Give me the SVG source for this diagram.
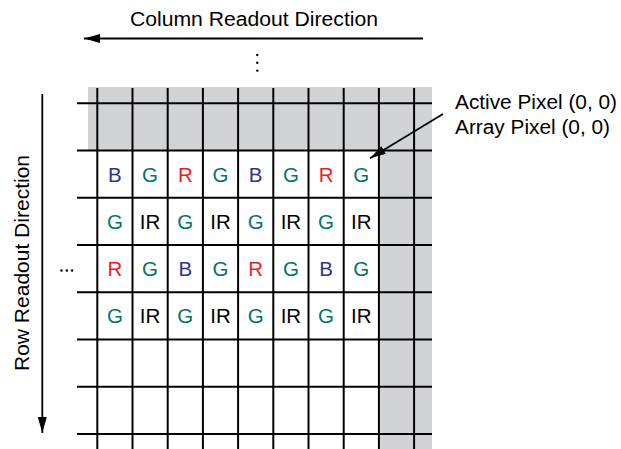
<svg xmlns="http://www.w3.org/2000/svg" width="621" height="449" viewBox="0 0 621 449">
<style>
  .grid line { stroke:#000; stroke-width:2; }
  .lbl { font-family:"Liberation Sans", Arial, sans-serif; font-size:20.5px; text-anchor:middle; }
  .b { fill:#2e3192; } .g { fill:#00746b; } .r { fill:#ed1c24; } .k { fill:#000; }
  .txt { font-family:"Liberation Sans", Arial, sans-serif; font-size:20px; fill:#000; }
  .arr { stroke:#000; stroke-width:1.8; fill:none; }
</style>
<defs>
  <marker id="ah" markerUnits="userSpaceOnUse" markerWidth="18" markerHeight="10" refX="16" refY="5" orient="auto">
    <path d="M0,0.5 L16,5 L0,9.5 Z" fill="#000"/>
  </marker>
</defs>
<rect width="621" height="449" fill="#fff"/>
<g id="shade">
  <path d="M88,87 H432 V449 H378.9 V150.5 H88 Z" fill="#d1d3d4"/>
</g>
<g id="grid" class="grid">
  <line x1="77" y1="103.3" x2="432" y2="103.3"/>
  <line x1="77" y1="150.5" x2="432" y2="150.5"/>
  <line x1="77" y1="197.8" x2="432" y2="197.8"/>
  <line x1="77" y1="245" x2="432" y2="245"/>
  <line x1="77" y1="292.3" x2="432" y2="292.3"/>
  <line x1="77" y1="339.5" x2="432" y2="339.5"/>
  <line x1="77" y1="386.7" x2="432" y2="386.7"/>
  <line x1="77" y1="434" x2="432" y2="434"/>
  <line x1="97.3" y1="88" x2="97.3" y2="449"/>
  <line x1="132.5" y1="88" x2="132.5" y2="449"/>
  <line x1="167.7" y1="88" x2="167.7" y2="449"/>
  <line x1="202.9" y1="88" x2="202.9" y2="449"/>
  <line x1="238.1" y1="88" x2="238.1" y2="449"/>
  <line x1="273.3" y1="88" x2="273.3" y2="449"/>
  <line x1="308.5" y1="88" x2="308.5" y2="449"/>
  <line x1="343.7" y1="88" x2="343.7" y2="449"/>
  <line x1="378.9" y1="88" x2="378.9" y2="449"/>
  <line x1="414.1" y1="88" x2="414.1" y2="449"/>
</g>
<g id="row1" class="lbl">
  <text class="b" x="114.9" y="181.7">B</text>
  <text class="g" x="150.1" y="181.7">G</text>
  <text class="r" x="185.3" y="181.7">R</text>
  <text class="g" x="220.5" y="181.7">G</text>
  <text class="b" x="255.7" y="181.7">B</text>
  <text class="g" x="290.9" y="181.7">G</text>
  <text class="r" x="326.1" y="181.7">R</text>
  <text class="g" x="361.3" y="181.7">G</text>
</g>
<g id="row2" class="lbl">
  <text class="g" x="114.9" y="228.9">G</text>
  <text class="k" x="150.1" y="228.9">IR</text>
  <text class="g" x="185.3" y="228.9">G</text>
  <text class="k" x="220.5" y="228.9">IR</text>
  <text class="g" x="255.7" y="228.9">G</text>
  <text class="k" x="290.9" y="228.9">IR</text>
  <text class="g" x="326.1" y="228.9">G</text>
  <text class="k" x="361.3" y="228.9">IR</text>
</g>
<g id="row3" class="lbl">
  <text class="r" x="114.9" y="276.1">R</text>
  <text class="g" x="150.1" y="276.1">G</text>
  <text class="b" x="185.3" y="276.1">B</text>
  <text class="g" x="220.5" y="276.1">G</text>
  <text class="r" x="255.7" y="276.1">R</text>
  <text class="g" x="290.9" y="276.1">G</text>
  <text class="b" x="326.1" y="276.1">B</text>
  <text class="g" x="361.3" y="276.1">G</text>
</g>
<g id="row4" class="lbl">
  <text class="g" x="114.9" y="323.4">G</text>
  <text class="k" x="150.1" y="323.4">IR</text>
  <text class="g" x="185.3" y="323.4">G</text>
  <text class="k" x="220.5" y="323.4">IR</text>
  <text class="g" x="255.7" y="323.4">G</text>
  <text class="k" x="290.9" y="323.4">IR</text>
  <text class="g" x="326.1" y="323.4">G</text>
  <text class="k" x="361.3" y="323.4">IR</text>
</g>
<g id="ellipses" fill="#000">
  <circle cx="257.3" cy="55" r="1.2"/>
  <circle cx="257.3" cy="62.8" r="1.2"/>
  <circle cx="257.3" cy="70.6" r="1.2"/>
  <circle cx="61.5" cy="270.5" r="1.2"/>
  <circle cx="66.8" cy="270.5" r="1.2"/>
  <circle cx="72.1" cy="270.5" r="1.2"/>
</g>
<g id="column-label">
  <text class="txt" x="254" y="26.3" text-anchor="middle" textLength="248" lengthAdjust="spacingAndGlyphs">Column Readout Direction</text>
</g>
<g id="row-label">
  <text class="txt" x="0" y="0" text-anchor="middle" style="font-size:21px" textLength="216" lengthAdjust="spacingAndGlyphs" transform="translate(28.8 263) rotate(-90)">Row Readout Direction</text>
</g>
<g id="pixel-label">
  <text class="txt" x="455" y="109.3" textLength="162" lengthAdjust="spacingAndGlyphs">Active Pixel (0, 0)</text>
  <text class="txt" x="455" y="134" textLength="155" lengthAdjust="spacingAndGlyphs">Array Pixel (0, 0)</text>
</g>
<g id="connectors">
  <line class="arr" x1="423" y1="38.5" x2="84" y2="38.5" marker-end="url(#ah)"/>
  <line class="arr" x1="42.3" y1="94" x2="42.3" y2="433" marker-end="url(#ah)"/>
  <line class="arr" x1="443" y1="114" x2="370" y2="158.3" marker-end="url(#ah)"/>
</g>
</svg>
